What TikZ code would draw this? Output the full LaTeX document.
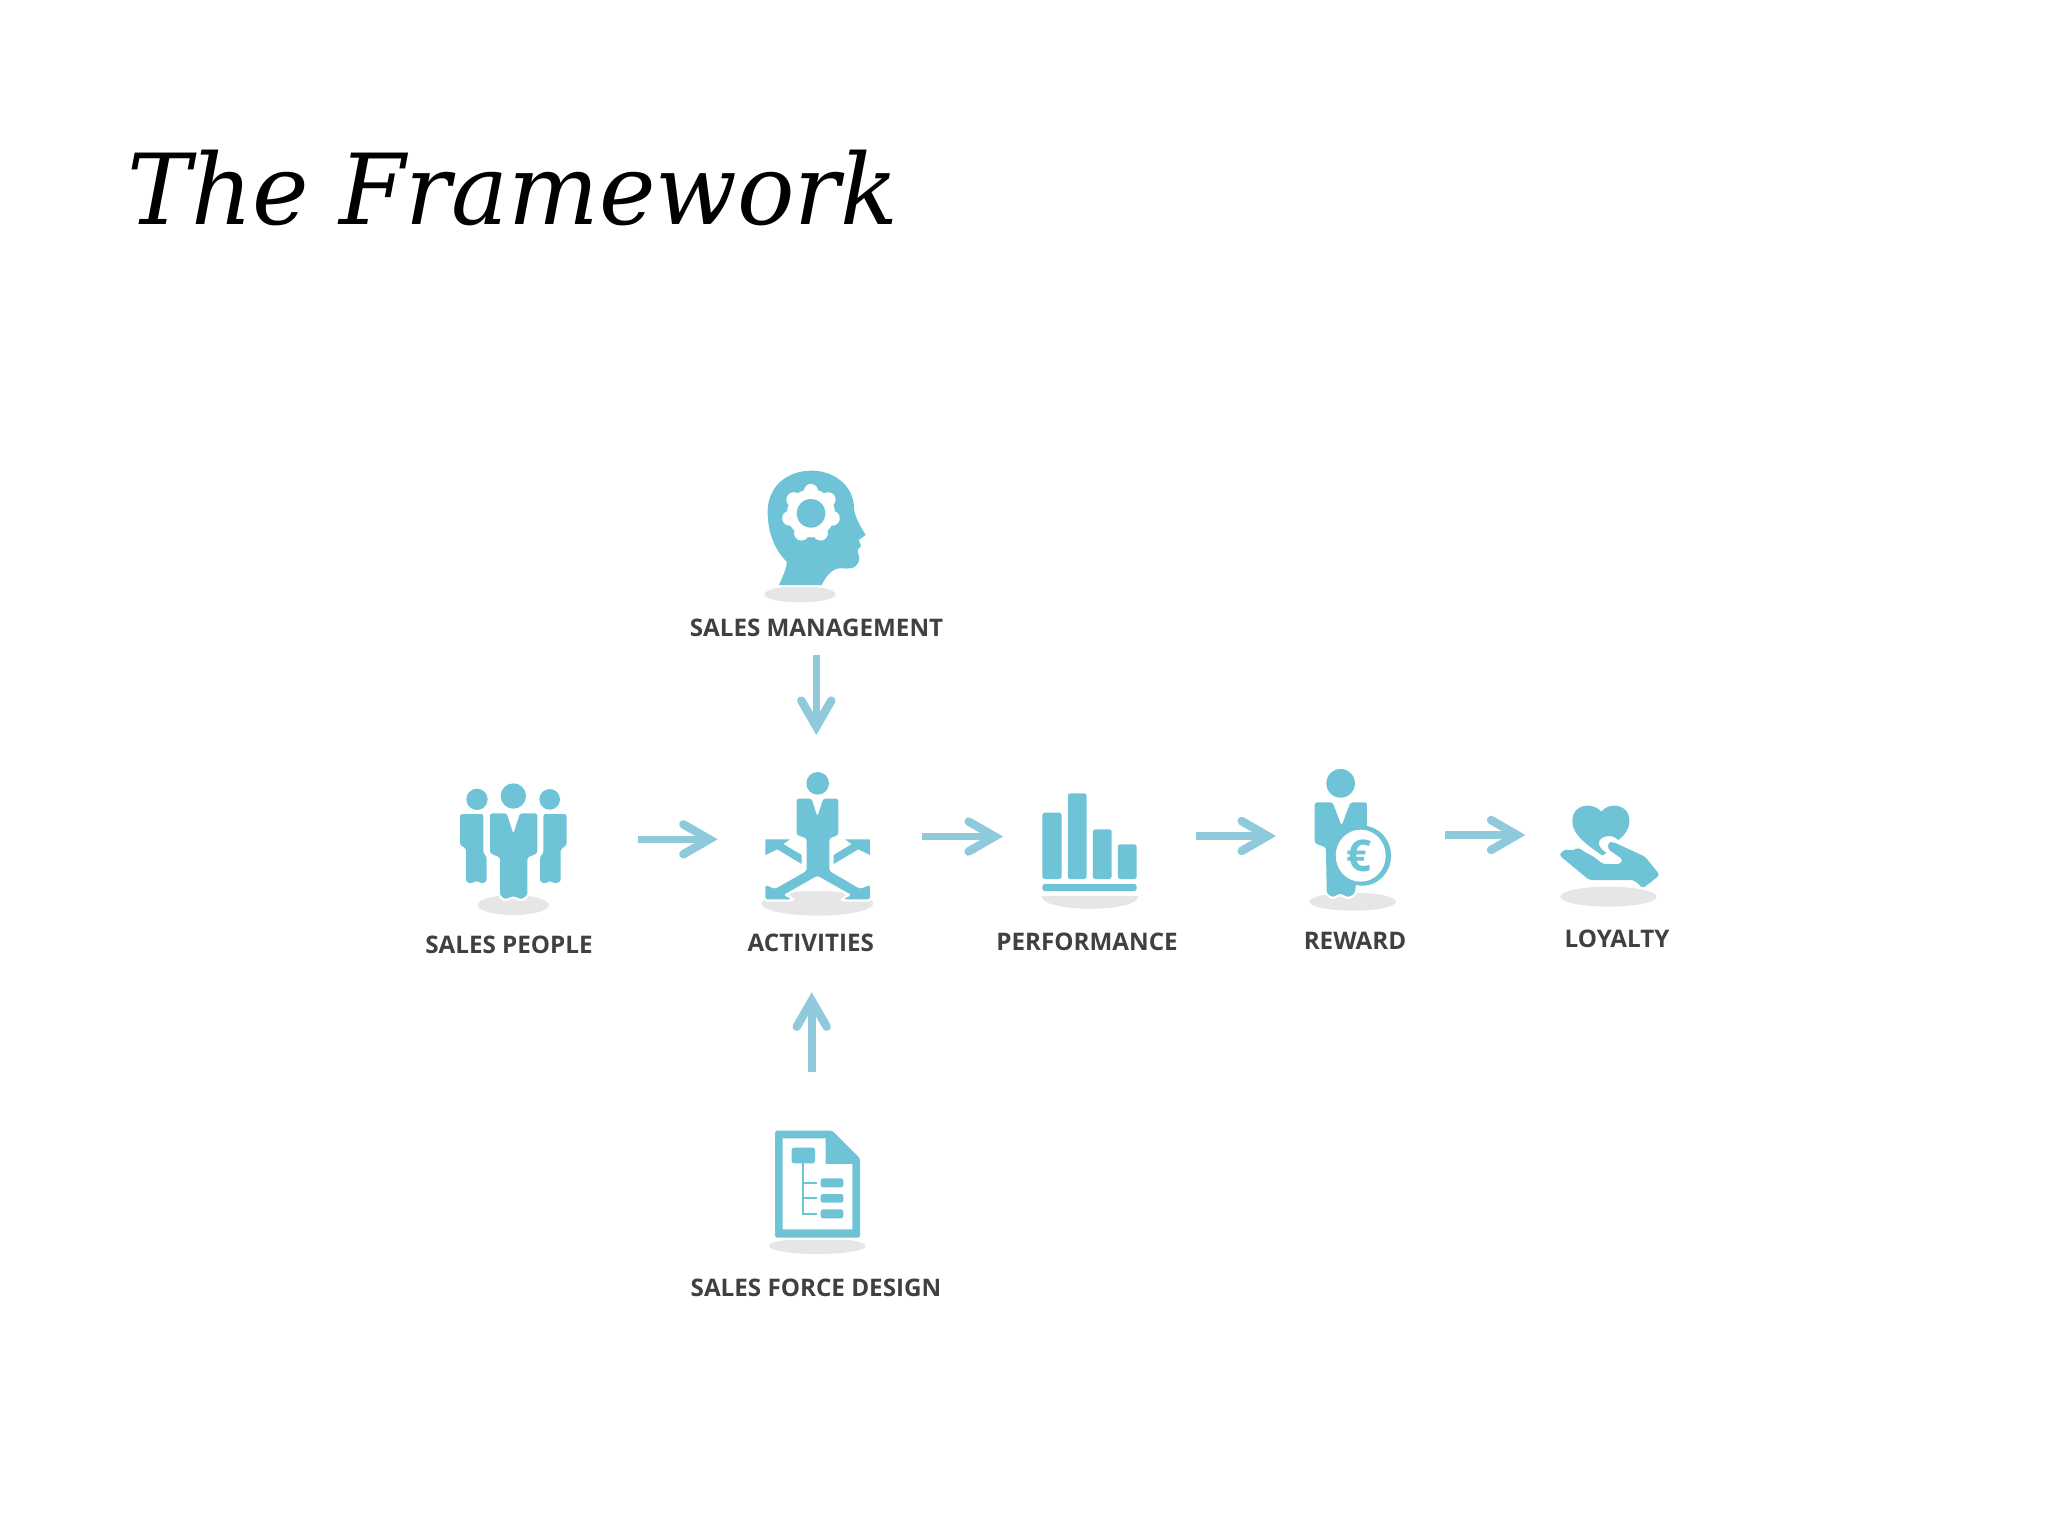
\documentclass[tikz,border=0pt]{standalone}
\usepackage{fontspec}
\usetikzlibrary{arrows.meta}
\newfontfamily\titlefont{DejaVu Serif}
\newfontfamily\labfont{Open Sans}[BoldFont={Open Sans Bold}]
\definecolor{teal}{HTML}{6EC4D6}
\definecolor{flow}{HTML}{8ECADC}
\definecolor{shade}{HTML}{E6E6E6}
\definecolor{ink}{HTML}{404043}
\tikzset{
  lab/.style={anchor=base,inner sep=0pt,text=ink,font=\labfont\bfseries\fontsize{12.1}{14}\selectfont},
  arrowline/.style={draw=flow,line width=3.8pt,-{Straight Barb[length=13pt,width=15pt,line width=4.2pt,line cap=round,line join=miter]}},
  icon/.style={preaction={draw=white,line width=2.4pt},fill=teal,rounded corners=1.2pt},
  solid icon/.style={fill=teal,rounded corners=1.2pt},
  shadowfill/.style={fill=shade}
}
\begin{document}
\begin{tikzpicture}[x=0.5pt,y=-0.5pt]
\useasboundingbox (0,0) rectangle (2048,1536);
\fill[white] (0,0) rectangle (2048,1536);
% title
\node[anchor=base west,inner sep=0pt,text=black] (title) at (127,224) {\scalebox{0.975}[1]{\titlefont\itshape\fontsize{49}{56}\selectfont The Framework}};

% sales people
\begin{scope}[shift={(420,740)},scale=1/3]
\fill[shadowfill] (280,495) ellipse (107 and 30);
\fill[teal] (171,178) circle (32) (280,168) circle (38) (389,178) circle (31);
\path[icon] (120,222) -- (190,222) -- (190,340) -- (200,350) -- (200,425) -- (185,431) -- (170,422) -- (152,431) -- (138,425) -- (138,325) -- (120,315) -- cycle;
\path[icon] (370,222) -- (440,222) -- (440,315) -- (422,328) -- (422,425) -- (405,431) -- (390,422) -- (375,431) -- (360,425) -- (360,350) -- (370,340) -- cycle;
\path[icon] (210,220) -- (260,220) -- (280,282) -- (300,220) -- (352,220) -- (352,340) -- (322,352) -- (322,465) -- (305,478) -- (280,468) -- (255,478) -- (240,465) -- (240,352) -- (210,340) -- cycle;
\end{scope}

% activities
\begin{scope}[shift={(420,740)},scale=1/3]
\fill[shadowfill] (1192,490) ellipse (168 and 37);
\fill[teal] (1193,130) circle (34);
\path[icon] (1130,176) -- (1175,176) -- (1192,230) -- (1210,176) -- (1255,176) -- (1255,285) -- (1228,295) -- (1228,393) -- (1320,447) -- (1350,435) -- (1350,478) -- (1270,478) -- (1295,465) -- (1192,407) -- (1090,465) -- (1115,478) -- (1036,478) -- (1036,435) -- (1065,447) -- (1160,393) -- (1160,295) -- (1130,285) -- cycle;
\fill[teal] (1036,298) -- (1110,298) -- (1090,312) -- (1145,345) -- (1145,372) -- (1072,328) -- (1036,345) -- cycle;
\fill[teal] (1350,298) -- (1275,298) -- (1295,312) -- (1241,345) -- (1241,372) -- (1315,328) -- (1350,345) -- cycle;
\end{scope}

% performance, reward, loyalty use the horizontally compressed crop coordinates
\begin{scope}[shift={(1000,740)},xscale=1/2.24,yscale=1/3]
% performance
\fill[shadowfill] (93,468) -- (310,468) .. controls (310,519) and (93,519) .. cycle;
\path[solid icon] (95,218) rectangle (138,417);
\path[solid icon] (152,160) rectangle (194,417);
\path[solid icon] (208,268) rectangle (250,417);
\path[solid icon] (264,313) rectangle (306,417);
\path[solid icon] (95,432) rectangle (306,453);
% reward
\fill[shadowfill] (790,485) ellipse (97 and 27);
\fill[teal] (763,130) ellipse (32 and 43);
\path[icon] (705,187) -- (745,187) -- (765,258) -- (785,187) -- (822,187) -- (822,300) -- (800,400) -- (795,460) -- (780,472) -- (762,460) -- (745,472) -- (732,460) -- (730,322) -- (705,310) -- cycle;
\fill[teal] (812,347) ellipse (64 and 90);
\fill[white] (808,347) ellipse (56 and 78);
\node[inner sep=0pt,text=teal,font=\labfont\bfseries\fontsize{22}{24}\selectfont] (euro) at (805,349) {€};
% loyalty
\fill[shadowfill] (1363,470) ellipse (108 and 30);
\fill[teal] (1347,215) .. controls (1330,187) and (1282,187) .. (1282,245) .. controls (1282,285) and (1320,320) .. (1350,347) -- (1358,338) .. controls (1335,320) and (1335,290) .. (1365,288) .. controls (1375,288) and (1380,295) .. (1385,300) .. controls (1400,285) and (1410,265) .. (1410,245) .. controls (1410,187) and (1362,187) .. cycle;
\fill[teal,rounded corners=1.5pt] (1362,308) -- (1372,305) -- (1445,350) -- (1478,405) -- (1440,445) -- (1420,420) -- (1320,420) -- (1252,345) -- (1265,328) -- (1285,332) -- (1295,322) -- (1312,338) -- (1330,350) -- (1350,372) -- (1390,372) -- (1395,358) -- (1362,328) -- cycle;
\end{scope}

% head
\begin{scope}[shift={(680,450)},scale=1/3]
\fill[shadowfill] (360,433) ellipse (107 and 24);
\fill[teal,preaction={draw=white,line width=2pt}] (297,405) .. controls (310,375) and (322,350) .. (320,335) .. controls (285,300) and (263,250) .. (263,185) .. controls (263,110) and (320,62) .. (395,62) .. controls (465,62) and (522,110) .. (522,175) .. controls (525,205) and (545,235) .. (557,255) -- (536,270) -- (543,288) -- (533,300) -- (538,325) .. controls (535,350) and (520,358) .. (490,355) .. controls (465,352) and (445,365) .. (425,405) -- cycle;
\fill[white] (393,190) circle (72);
\foreach \a in {-90,-38.6,12.9,64.3,115.7,167.1,218.6}
  \draw[white,line width=7.4pt,line cap=round] (393,190) -- ++(\a:66);
\fill[teal] (393,190) circle (43);
\end{scope}

% document
\begin{scope}[shift={(680,980)},scale=1/3]
\fill[shadowfill] (412,798) ellipse (145 and 24);
\path[icon] (285,452) -- (457,452) -- (540,535) -- (540,773) -- (285,773) -- cycle;
\fill[white] (308,475) -- (437,475) -- (437,552) -- (517,552) -- (517,748) -- (308,748) -- cycle;
\path[solid icon] (335,503) rectangle (405,550);
\draw[teal,line width=1.1pt] (370,550) -- (370,703) -- (412,703) (370,608) -- (412,608) (370,655) -- (412,655);
\path[solid icon] (422,595) rectangle (490,622);
\path[solid icon] (422,642) rectangle (490,668);
\path[solid icon] (422,688) rectangle (490,715);
\end{scope}

% labels
\node[lab] (mgmt) at (816.5,636.5) {SALES MANAGEMENT};
\node[lab] (people) at (509,953.3) {SALES PEOPLE};
\node[lab] (activities) at (810.8,951.7) {ACTIVITIES};
\node[lab] (performance) at (1087,950) {PERFORMANCE};
\node[lab] (reward) at (1355,949) {REWARD};
\node[lab] (loyalty) at (1617,947.3) {LOYALTY};
\node[lab] (design) at (816,1296) {SALES FORCE DESIGN};

% connectors
\coordinate (m1) at (816.3,655);  \coordinate (m2) at (816.3,735);
\coordinate (d1) at (811.7,1072.3); \coordinate (d2) at (811.7,992.3);
\coordinate (p1) at (638.3,839.3); \coordinate (p2) at (717.7,839.3);
\coordinate (a1) at (922,836.5);   \coordinate (a2) at (1003,836.5);
\coordinate (f1) at (1195.5,836);  \coordinate (f2) at (1276,836);
\coordinate (r1) at (1445,835);    \coordinate (r2) at (1525.4,835);
\draw[arrowline] (m1) -- (m2);
\draw[arrowline] (d1) -- (d2);
\draw[arrowline] (p1) -- (p2);
\draw[arrowline] (a1) -- (a2);
\draw[arrowline] (f1) -- (f2);
\draw[arrowline] (r1) -- (r2);
\end{tikzpicture}
\end{document}
